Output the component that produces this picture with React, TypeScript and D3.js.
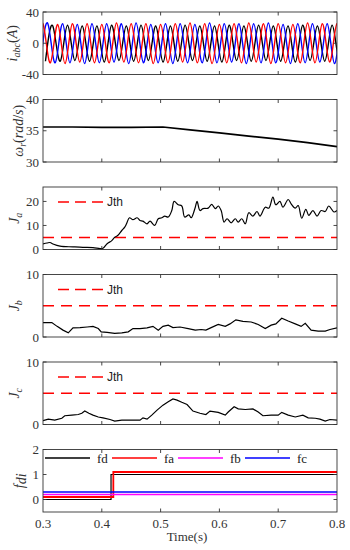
import React from "react";
import * as d3 from "d3";

// ---- data ----
const timeTicks = [0.3, 0.4, 0.5, 0.6, 0.7, 0.8];

// three-phase currents: extreme values (trough / peak alternately), every half cycle
const halfCycle = 0.0125;
const iaStart = 0.2875;
const ibStart = 0.2958;
const icStart = 0.3042;
const iaExtremes = [-25, 25, -25, 24, -26, 25, -24, 25, -25, 24, -25, 26, -24, 25, -25, 25, -26, 24, -25, 25, -24, 26, -25, 25, -26, 24, -25, 25, -25, 26, -24, 25, -26, 25, -25, 24, -25, 26, -25, 25, -24, 25, -25, 25];
const ibExtremes = [-26, 25, -25, 25, -25, 24, -26, 25, -25, 25, -24, 25, -26, 26, -25, 24, -25, 25, -26, 25, -25, 24, -25, 26, -25, 25, -24, 25, -26, 25, -25, 26, -25, 24, -26, 25, -25, 25, -24, 25, -26, 25, -25, 24];
const icExtremes = [-23, 22, -23, 23, -22, 22, -23, 22, -24, 23, -22, 22, -23, 23, -22, 22, -24, 22, -23, 23, -22, 22, -23, 22, -24, 23, -22, 22, -23, 23, -22, 22, -23, 22, -24, 23, -22, 22, -23, 23, -22, 22, -23, 22];

// rotor speed
const wTime = [0.3, 0.35, 0.4, 0.45, 0.504, 0.55, 0.6, 0.65, 0.7, 0.75, 0.8];
const wVal = [35.6, 35.6, 35.55, 35.55, 35.6, 35.15, 34.65, 34.15, 33.65, 33.1, 32.45];

// residual indices
const jaTime = [0.3, 0.307, 0.312, 0.317, 0.329, 0.351, 0.368, 0.385, 0.397, 0.402, 0.409, 0.417, 0.422, 0.427, 0.434, 0.439, 0.442, 0.447, 0.453, 0.46, 0.465, 0.47, 0.477, 0.482, 0.49, 0.496, 0.502, 0.507, 0.513, 0.519, 0.523, 0.53, 0.536, 0.541, 0.548, 0.552, 0.559, 0.562, 0.567, 0.572, 0.581, 0.587, 0.593, 0.598, 0.603, 0.608, 0.613, 0.62, 0.627, 0.632, 0.638, 0.644, 0.65, 0.657, 0.664, 0.669, 0.678, 0.684, 0.691, 0.696, 0.703, 0.708, 0.717, 0.722, 0.729, 0.734, 0.74, 0.747, 0.752, 0.759, 0.766, 0.773, 0.78, 0.786, 0.795, 0.8];
const jaVal = [2.3, 2.7, 2.9, 2.3, 1.4, 1.1, 0.9, 0.8, 0.4, 0.5, 2.4, 3.7, 5.1, 5.8, 7.9, 9.3, 10.7, 13.2, 12.4, 13.2, 12.1, 11.8, 10.7, 11.8, 10.0, 12.8, 13.2, 13.9, 13.5, 16.2, 20.0, 18.6, 18.1, 13.5, 14.4, 13.2, 17.6, 20.0, 16.2, 17.0, 17.2, 18.8, 17.0, 18.1, 16.2, 11.4, 12.8, 11.1, 12.8, 11.4, 12.8, 10.7, 15.3, 13.9, 15.8, 13.9, 17.6, 17.2, 21.8, 18.6, 20.0, 17.6, 20.8, 19.0, 17.2, 18.3, 13.0, 16.7, 14.2, 16.2, 13.9, 16.2, 15.8, 18.1, 15.6, 16.2];

const jbTime = [0.3, 0.315, 0.324, 0.334, 0.343, 0.351, 0.363, 0.375, 0.385, 0.394, 0.399, 0.409, 0.422, 0.434, 0.445, 0.453, 0.465, 0.477, 0.487, 0.496, 0.504, 0.513, 0.521, 0.533, 0.547, 0.559, 0.569, 0.577, 0.586, 0.598, 0.61, 0.618, 0.628, 0.64, 0.654, 0.666, 0.678, 0.688, 0.696, 0.706, 0.717, 0.729, 0.739, 0.746, 0.756, 0.768, 0.78, 0.788, 0.8];
const jbVal = [2.3, 2.3, 1.7, 1.1, 0.67, 1.45, 1.5, 1.6, 1.7, 1.35, 0.83, 0.75, 0.57, 0.67, 0.83, 1.35, 1.35, 1.45, 1.7, 1.1, 1.7, 1.9, 1.5, 1.6, 1.35, 1.1, 1.2, 1.1, 1.5, 2.0, 1.7, 2.1, 2.75, 2.5, 2.4, 2.0, 1.35, 1.9, 2.1, 3.0, 2.55, 2.1, 1.7, 2.2, 1.1, 0.95, 0.95, 1.2, 1.45];

const jcTime = [0.3, 0.309, 0.32, 0.332, 0.337, 0.349, 0.36, 0.366, 0.371, 0.378, 0.385, 0.394, 0.402, 0.414, 0.422, 0.434, 0.448, 0.465, 0.47, 0.477, 0.485, 0.494, 0.504, 0.513, 0.521, 0.528, 0.536, 0.545, 0.555, 0.567, 0.577, 0.584, 0.598, 0.61, 0.615, 0.625, 0.632, 0.644, 0.657, 0.666, 0.674, 0.688, 0.7, 0.706, 0.717, 0.729, 0.742, 0.751, 0.763, 0.771, 0.78, 0.788, 0.8];
const jcVal = [0.6, 0.86, 0.7, 1.0, 1.4, 1.5, 1.6, 1.8, 2.15, 1.8, 1.5, 1.2, 1.07, 0.8, 0.54, 0.7, 0.7, 0.7, 1.07, 0.86, 1.5, 2.3, 3.1, 3.65, 4.1, 3.9, 3.55, 3.2, 2.15, 1.8, 1.6, 2.15, 1.94, 1.5, 2.0, 2.85, 2.5, 2.4, 2.5, 2.0, 1.4, 1.5, 1.5, 1.94, 1.5, 1.2, 1.5, 1.07, 1.0, 0.86, 0.54, 0.8, 0.7];

const jth = 5;

// fault detection / isolation flags
const fdTime = [0.3, 0.4157, 0.8];
const fdVal = [0, 1, 1];
const faTime = [0.3, 0.4196, 0.8];
const faVal = [0.1, 1.1, 1.1];
const fbTime = [0.3, 0.8];
const fbVal = [0.2, 0.2];
const fcTime = [0.3, 0.8];
const fcVal = [0.3, 0.3];

// ---- layout ----
const X0 = 43;
const X1 = 337;
const TOP0 = 12;
const PH = 62.5;
const STEP = 87.5;
const axisColor = "#333";
const serif = "'Liberation Serif', 'DejaVu Serif', serif";
const sans = "'Liberation Sans', Arial, sans-serif";

const x = d3.scaleLinear().domain([0.3, 0.8]).range([X0, X1]);

const panelY = (i: number, dom: [number, number]) =>
  d3.scaleLinear().domain(dom).range([TOP0 + STEP * i + PH, TOP0 + STEP * i]);

const yI = panelY(0, [-40, 40]);
const yW = panelY(1, [30, 40]);
const yJa = panelY(2, [0, 26]);
const yJb = panelY(3, [0, 10]);
const yJc = panelY(4, [0, 10]);
const yF = panelY(5, [-0.5, 2]);

function series(t: number[], v: number[], ys: d3.ScaleLinear<number, number>, curve: d3.CurveFactory = d3.curveLinear) {
  const pts = t.map((tt, k) => [tt, v[k]] as [number, number]);
  return d3.line<[number, number]>().x((d) => x(d[0])).y((d) => ys(d[1])).curve(curve)(pts) || "";
}

function phase(start: number, ext: number[]) {
  const t = ext.map((_, k) => start + k * halfCycle);
  return series(t, ext, yI, d3.curveNatural);
}

function Frame({ i, ys, yTicks, xLabels }: { i: number; ys: d3.ScaleLinear<number, number>; yTicks: number[]; xLabels?: boolean }) {
  const top = TOP0 + STEP * i;
  const bottom = top + PH;
  const tl = 3.5;
  return (
    <g>
      <rect x={X0} y={top} width={X1 - X0} height={PH} fill="none" stroke={axisColor} strokeWidth={0.9} />
      {timeTicks.slice(1, -1).map((t) => (
        <g key={t}>
          <line x1={x(t)} x2={x(t)} y1={bottom} y2={bottom - tl} stroke={axisColor} strokeWidth={0.9} />
          <line x1={x(t)} x2={x(t)} y1={top} y2={top + tl} stroke={axisColor} strokeWidth={0.9} />
        </g>
      ))}
      {yTicks.map((v) => (
        <g key={v}>
          <line x1={X0} x2={X0 + tl} y1={ys(v)} y2={ys(v)} stroke={axisColor} strokeWidth={0.9} />
          <line x1={X1} x2={X1 - tl} y1={ys(v)} y2={ys(v)} stroke={axisColor} strokeWidth={0.9} />
          <text x={39} y={ys(v)} dy="0.35em" textAnchor="end" fontFamily={serif} fontSize={13} fill="#333">
            {v}
          </text>
        </g>
      ))}
      {xLabels &&
        timeTicks.map((t) => (
          <text key={t} x={x(t)} y={bottom + 16} textAnchor="middle" fontFamily={serif} fontSize={13} fill="#333">
            {t.toFixed(1)}
          </text>
        ))}
    </g>
  );
}

function JthLegend({ i, ys }: { i: number; ys: d3.ScaleLinear<number, number> }) {
  const top = TOP0 + STEP * i;
  return (
    <g>
      <line x1={X0} x2={X1} y1={ys(jth)} y2={ys(jth)} stroke="#ff0000" strokeWidth={1.3} strokeDasharray="11,7" />
      <line x1={58} x2={103} y1={top + 15} y2={top + 15} stroke="#ff0000" strokeWidth={1.3} strokeDasharray="11,6" />
      <text x={107} y={top + 15} dy="0.35em" fontFamily={sans} fontSize={12} fill="#222">
        Jth
      </text>
    </g>
  );
}

function YLabel({ i, xPos, children }: { i: number; xPos: number; children: React.ReactNode }) {
  const cy = TOP0 + STEP * i + PH / 2;
  return (
    <text transform={`translate(${xPos},${cy}) rotate(-90)`} textAnchor="middle" fontFamily={serif} fontSize={14} fill="#333">
      {children}
    </text>
  );
}

const flagLegend = [
  { label: "fd", color: "#000000", x1: 45 },
  { label: "fa", color: "#ff0000", x1: 112 },
  { label: "fb", color: "#ff00ff", x1: 178 },
  { label: "fc", color: "#0000ff", x1: 245 },
];

export default function App() {
  const clip = (i: number) => `clip${i}`;
  return (
    <svg width={350} height={550} style={{ position: "absolute", left: 0, top: 0, background: "#fff" }}>
      <defs>
        {[0, 1, 2, 3, 4, 5].map((i) => (
          <clipPath id={clip(i)} key={i}>
            <rect x={X0} y={TOP0 + STEP * i} width={X1 - X0} height={PH} />
          </clipPath>
        ))}
      </defs>

      {/* currents */}
      <g clipPath={`url(#${clip(0)})`} fill="none" strokeWidth={1.4}>
        <path d={phase(icStart, icExtremes)} stroke="#000" />
        <path d={phase(ibStart, ibExtremes)} stroke="#0000ff" />
        <path d={phase(iaStart, iaExtremes)} stroke="#ff0000" />
      </g>
      <Frame i={0} ys={yI} yTicks={[-40, 0, 40]} />
      <YLabel i={0} xPos={17}>
        <tspan fontStyle="italic">i</tspan>
        <tspan fontStyle="italic" fontSize={10} dy={3}>abc</tspan>
        <tspan dy={-3}>(</tspan>
        <tspan fontStyle="italic">A</tspan>
        <tspan>)</tspan>
      </YLabel>

      {/* speed */}
      <path d={series(wTime, wVal, yW)} fill="none" stroke="#000" strokeWidth={1.7} />
      <Frame i={1} ys={yW} yTicks={[30, 35, 40]} />
      <YLabel i={1} xPos={23}>
        <tspan fontStyle="italic">ω</tspan>
        <tspan fontStyle="italic" fontSize={10} dy={3}>r</tspan>
        <tspan dy={-3}>(</tspan>
        <tspan fontStyle="italic">rad</tspan>
        <tspan>/</tspan>
        <tspan fontStyle="italic">s</tspan>
        <tspan>)</tspan>
      </YLabel>

      {/* Ja */}
      <JthLegend i={2} ys={yJa} />
      <path d={series(jaTime, jaVal, yJa, d3.curveCatmullRom)} fill="none" stroke="#000" strokeWidth={1.2} clipPath={`url(#${clip(2)})`} />
      <Frame i={2} ys={yJa} yTicks={[0, 10, 20]} />
      <YLabel i={2} xPos={19}>
        <tspan fontStyle="italic">J</tspan>
        <tspan fontStyle="italic" fontSize={10} dy={3}>a</tspan>
      </YLabel>

      {/* Jb */}
      <JthLegend i={3} ys={yJb} />
      <path d={series(jbTime, jbVal, yJb)} fill="none" stroke="#000" strokeWidth={1.2} clipPath={`url(#${clip(3)})`} />
      <Frame i={3} ys={yJb} yTicks={[0, 10]} />
      <YLabel i={3} xPos={19}>
        <tspan fontStyle="italic">J</tspan>
        <tspan fontStyle="italic" fontSize={10} dy={3}>b</tspan>
      </YLabel>

      {/* Jc */}
      <JthLegend i={4} ys={yJc} />
      <path d={series(jcTime, jcVal, yJc)} fill="none" stroke="#000" strokeWidth={1.2} clipPath={`url(#${clip(4)})`} />
      <Frame i={4} ys={yJc} yTicks={[0, 10]} />
      <YLabel i={4} xPos={19}>
        <tspan fontStyle="italic">J</tspan>
        <tspan fontStyle="italic" fontSize={10} dy={3}>c</tspan>
      </YLabel>

      {/* flags */}
      <g fill="none" clipPath={`url(#${clip(5)})`}>
        <path d={series(fdTime, fdVal, yF, d3.curveStepAfter)} stroke="#000" strokeWidth={1.2} />
        <path d={series(faTime, faVal, yF, d3.curveStepAfter)} stroke="#ff0000" strokeWidth={1.8} />
        <path d={series(fbTime, fbVal, yF)} stroke="#ff00ff" strokeWidth={1.5} />
        <path d={series(fcTime, fcVal, yF)} stroke="#0000ff" strokeWidth={1.5} />
      </g>
      {flagLegend.map((f) => (
        <g key={f.label}>
          <line x1={f.x1} x2={f.x1 + 45} y1={458} y2={458} stroke={f.color} strokeWidth={1.8} strokeOpacity={0.75} />
          <text x={f.x1 + 52} y={458} dy="0.35em" fontFamily={serif} fontSize={13} fill="#222">
            {f.label}
          </text>
        </g>
      ))}
      <Frame i={5} ys={yF} yTicks={[0, 1, 2]} xLabels />
      <YLabel i={5} xPos={24}>
        <tspan fontStyle="italic">f</tspan>
        <tspan fontStyle="italic" dy={2}>di</tspan>
      </YLabel>
      <text x={187} y={541} textAnchor="middle" fontFamily={serif} fontSize={13} fill="#333">
        Time(s)
      </text>
    </svg>
  );
}
